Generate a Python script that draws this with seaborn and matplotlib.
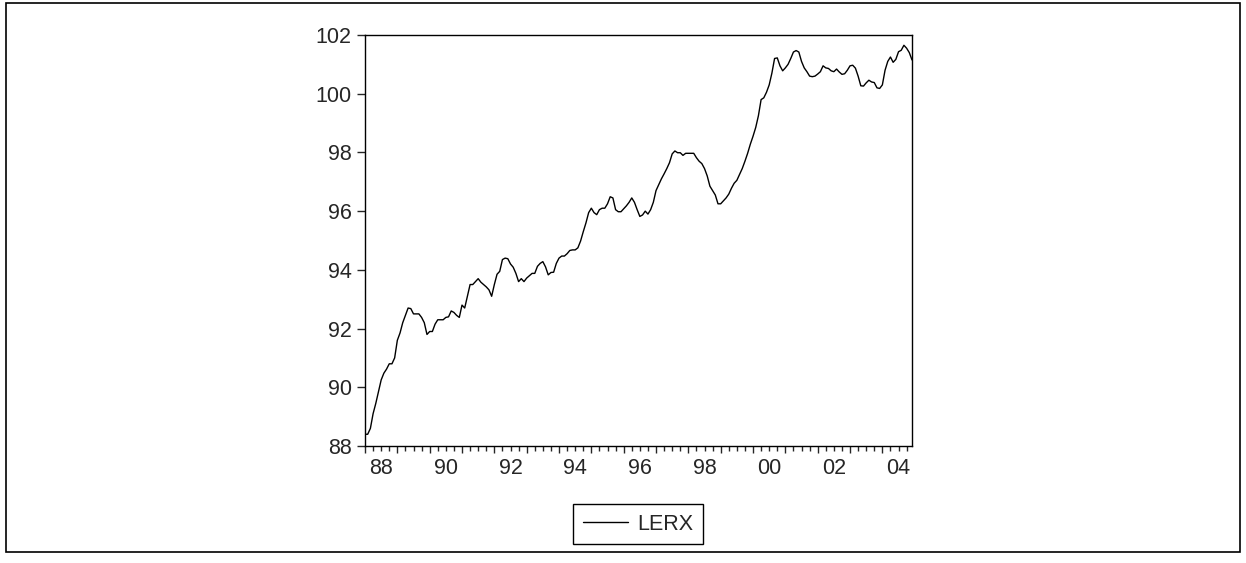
import numpy as np
import pandas as pd
import matplotlib
matplotlib.use("Agg")
import matplotlib.pyplot as plt
import seaborn as sns
from matplotlib.patches import Rectangle
from matplotlib.ticker import FixedLocator, FuncFormatter

# monthly LERX, 1988M01 - 2004M12, one row per year
lerx_88 = [88.40, 88.40, 88.60, 89.10, 89.45, 89.85, 90.25, 90.48, 90.62, 90.80, 90.80, 91.00]
lerx_89 = [91.60, 91.85, 92.20, 92.45, 92.70, 92.68, 92.50, 92.50, 92.50, 92.38, 92.20, 91.80]
lerx_90 = [91.90, 91.90, 92.15, 92.30, 92.30, 92.30, 92.38, 92.40, 92.60, 92.55, 92.45, 92.38]
lerx_91 = [92.80, 92.70, 93.10, 93.50, 93.50, 93.60, 93.70, 93.58, 93.50, 93.42, 93.32, 93.10]
lerx_92 = [93.50, 93.85, 93.95, 94.35, 94.40, 94.38, 94.20, 94.09, 93.88, 93.60, 93.70, 93.60]
lerx_93 = [93.72, 93.80, 93.88, 93.88, 94.12, 94.22, 94.28, 94.10, 93.83, 93.91, 93.92, 94.22]
lerx_94 = [94.40, 94.47, 94.47, 94.55, 94.66, 94.68, 94.68, 94.75, 94.98, 95.30, 95.60, 95.95]
lerx_95 = [96.10, 95.95, 95.88, 96.05, 96.10, 96.10, 96.25, 96.49, 96.45, 96.05, 95.98, 95.98]
lerx_96 = [96.08, 96.18, 96.30, 96.45, 96.30, 96.05, 95.82, 95.87, 96.00, 95.90, 96.05, 96.30]
lerx_97 = [96.70, 96.90, 97.10, 97.27, 97.45, 97.65, 97.95, 98.05, 97.99, 97.99, 97.90, 97.97]
lerx_98 = [97.97, 97.97, 97.97, 97.82, 97.70, 97.62, 97.45, 97.20, 96.85, 96.70, 96.55, 96.25]
lerx_99 = [96.25, 96.35, 96.45, 96.58, 96.78, 96.95, 97.05, 97.25, 97.45, 97.70, 97.97, 98.28]
lerx_00 = [98.55, 98.85, 99.25, 99.80, 99.86, 100.05, 100.30, 100.70, 101.20, 101.22, 100.95, 100.78]
lerx_01 = [100.88, 101.00, 101.20, 101.42, 101.47, 101.42, 101.10, 100.88, 100.75, 100.60, 100.58, 100.60]
lerx_02 = [100.67, 100.75, 100.95, 100.88, 100.86, 100.78, 100.75, 100.84, 100.74, 100.66, 100.68, 100.80]
lerx_03 = [100.95, 100.97, 100.87, 100.60, 100.27, 100.26, 100.37, 100.46, 100.40, 100.38, 100.20, 100.18]
lerx_04 = [100.30, 100.80, 101.10, 101.25, 101.07, 101.17, 101.43, 101.48, 101.65, 101.55, 101.40, 101.15]

lerx = (lerx_88 + lerx_89 + lerx_90 + lerx_91 + lerx_92 + lerx_93 + lerx_94 + lerx_95 + lerx_96
        + lerx_97 + lerx_98 + lerx_99 + lerx_00 + lerx_01 + lerx_02 + lerx_03 + lerx_04)

months = pd.period_range("1988-01", "2004-12", freq="M")
df = pd.DataFrame({"t": months.year + (months.month - 1) / 12, "LERX": lerx})

sns.set_style("white")
plt.rcParams["font.family"] = ["Liberation Sans", "DejaVu Sans"]

fig = plt.figure(figsize=(12.46, 5.63), dpi=100)
ax = fig.add_axes([365 / 1246, 1 - 446 / 563, (912 - 365) / 1246, (446 - 35) / 563])

sns.lineplot(data=df, x="t", y="LERX", color="black", linewidth=1.0, ax=ax, label="LERX", legend=False)

ax.set_xlim(df["t"].iloc[0], df["t"].iloc[-1])
ax.set_ylim(88, 102)
ax.set_yticks([88, 90, 92, 94, 96, 98, 100, 102])
ax.set_xlabel("")
ax.set_ylabel("")

# yearly major ticks, quarterly minor ticks, labels at mid-year of even years
ax.xaxis.set_major_locator(FixedLocator(np.arange(1988, 2005)))
ax.xaxis.set_major_formatter(FuncFormatter(lambda v, p: ""))
ax.xaxis.set_minor_locator(FixedLocator(np.arange(1988.25, 2004.95, 0.25)))


def mid_label(v, p):
    yr = int(np.floor(v))
    if abs(v - yr - 0.5) < 0.01 and yr % 2 == 0:
        return "%02d" % (yr % 100)
    return ""


ax.xaxis.set_minor_formatter(FuncFormatter(mid_label))

ax.tick_params(axis="y", which="major", direction="out", length=6, width=1, pad=3.5, labelsize=15.5, left=True)
ax.tick_params(axis="x", which="major", direction="out", length=5, width=1, bottom=True)
ax.tick_params(axis="x", which="minor", direction="out", length=3.5, width=1, pad=5, labelsize=15.5, bottom=True)

for s in ax.spines.values():
    s.set_color("black")
    s.set_linewidth(1.0)

fig.legend(handles=ax.get_lines()[:1], labels=["LERX"], loc="center",
           bbox_to_anchor=(638 / 1246, 1 - 524 / 563), frameon=True, fancybox=False,
           edgecolor="black", fontsize=15.5, handlelength=2.1, borderpad=0.45,
           handletextpad=0.4, framealpha=1)
fig.legends[0].get_frame().set_linewidth(1.0)

fig.patches.append(Rectangle((6 / 1246, 1 - 552 / 563), (1240 - 6) / 1246, (552 - 3) / 563,
                             transform=fig.transFigure, fill=False, edgecolor="black", linewidth=1.2))

fig.savefig("out.png", dpi=100)
